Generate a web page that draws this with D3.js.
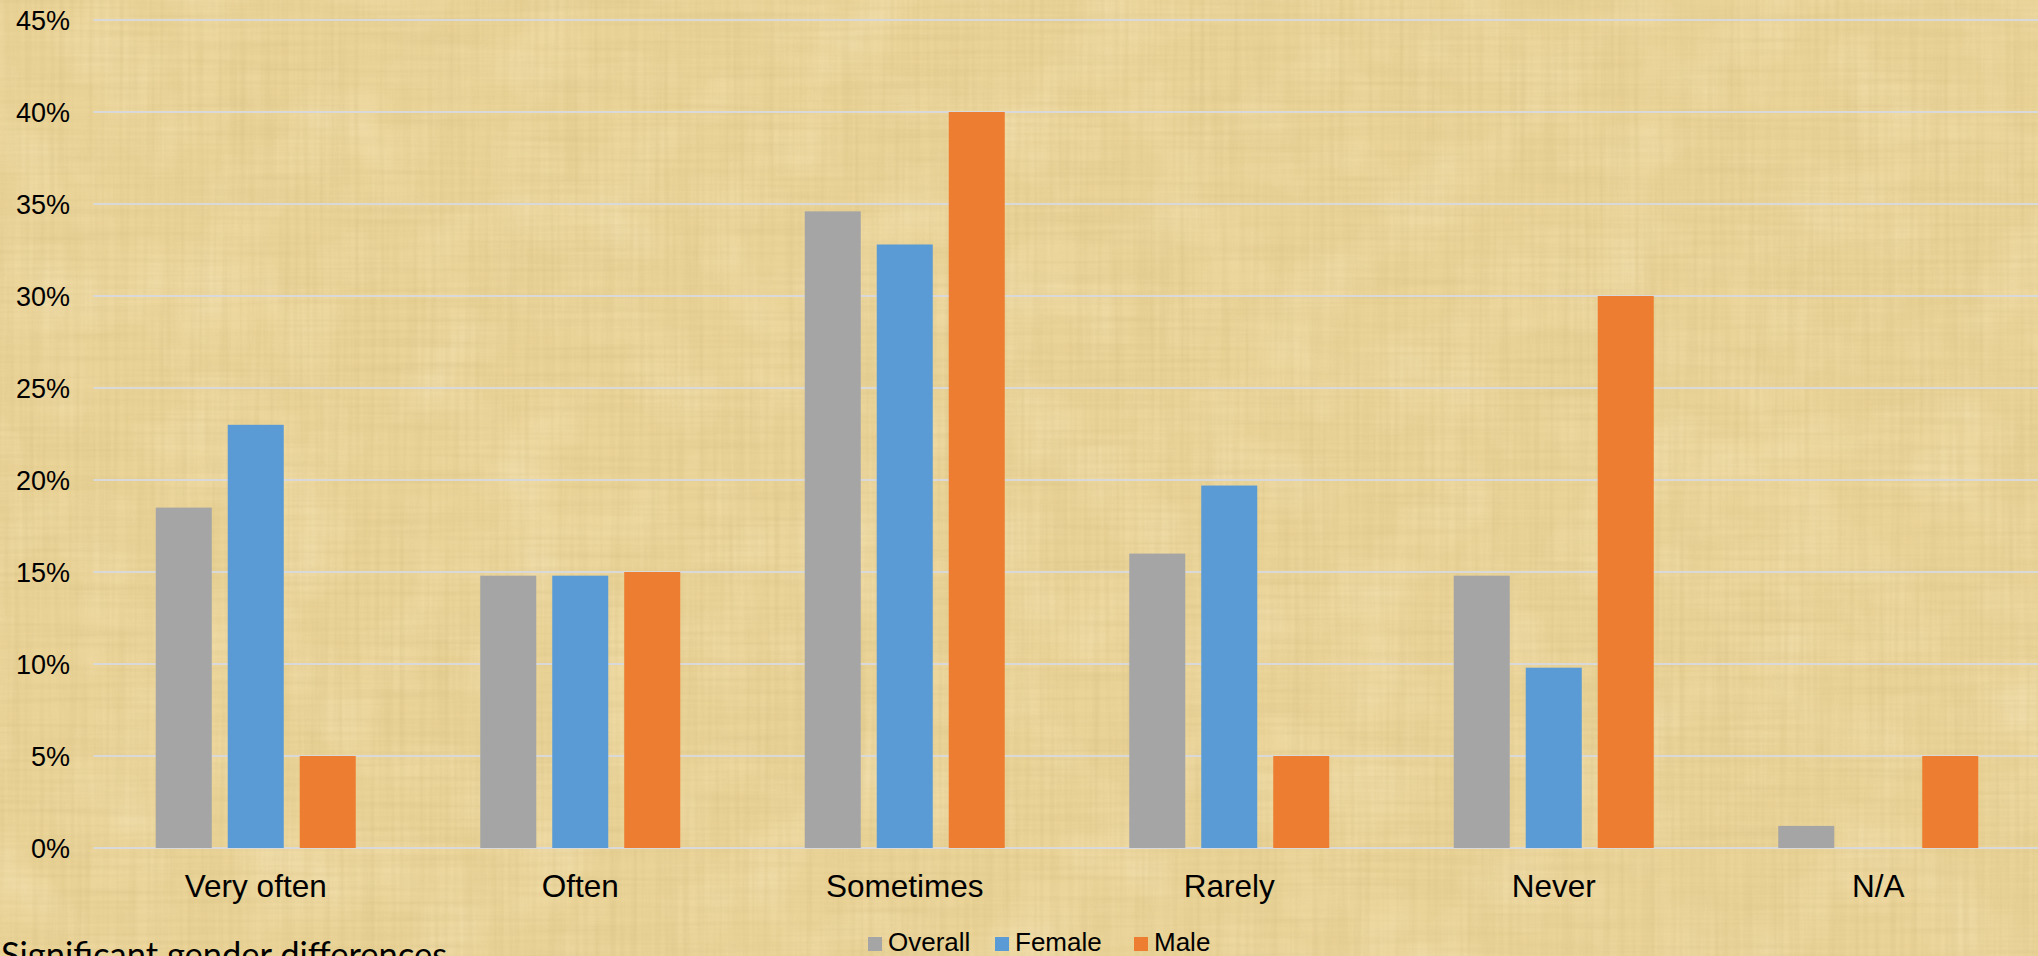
<!DOCTYPE html>
<html>
<head>
<meta charset="utf-8">
<script src="https://cdn.jsdelivr.net/npm/d3@7"></script>
<style>
  html, body { margin: 0; padding: 0; overflow: hidden; }
  svg { display: block; }
</style>
</head>
<body>
<div id="chart"></div>
<script>
// chart values (fractions)
var categories = ["Very often", "Often", "Sometimes", "Rarely", "Never", "N/A"];
var seriesNames = ["Overall", "Female", "Male"];
var overall = [0.185, 0.148, 0.346, 0.160, 0.148, 0.012];
var female  = [0.230, 0.148, 0.328, 0.197, 0.098, 0.000];
var male    = [0.050, 0.150, 0.400, 0.050, 0.300, 0.050];
var yTicks  = [0, 0.05, 0.10, 0.15, 0.20, 0.25, 0.30, 0.35, 0.40, 0.45];
var footnote = "Significant gender differences";

var values = { "Overall": overall, "Female": female, "Male": male };

var width = 2038
  , height = 956
  , plot = { left: 93.5, right: 2040.5, top: 20, bottom: 848 }
  , fillColors = ["#a5a5a5", "#5b9bd5", "#ed7d31"]
  , font = "'Liberation Sans', Arial, sans-serif"
  ;

var x0Scale = d3.scaleBand()
  .domain(categories)
  .range([plot.left, plot.right])
  .padding(0);

var x1Scale = d3.scaleBand()
  .domain(seriesNames)
  .range([62.25, 262.25])
  .paddingInner(0.222)
  .paddingOuter(0);

var yScale = d3.scaleLinear()
  .domain([0, 0.45])
  .range([plot.bottom, plot.top]);

var color = d3.scaleOrdinal().domain(seriesNames).range(fillColors);

var root = d3.select("#chart").append("svg")
  .attr("width", width)
  .attr("height", height);

// papyrus-ish background
var defs = root.append("defs");
var f = defs.append("filter").attr("id", "fibersH")
  .attr("x", 0).attr("y", 0).attr("width", "100%").attr("height", "100%");
f.append("feTurbulence").attr("type", "fractalNoise")
  .attr("baseFrequency", "0.006 0.22").attr("numOctaves", 2).attr("seed", 4);
f.append("feColorMatrix").attr("type", "matrix")
  .attr("values", "0 0 0 0 0.62  0 0 0 0 0.48  0 0 0 0 0.2  0.9 0 0 0 -0.34");

var g2 = defs.append("filter").attr("id", "fibersV")
  .attr("x", 0).attr("y", 0).attr("width", "100%").attr("height", "100%");
g2.append("feTurbulence").attr("type", "fractalNoise")
  .attr("baseFrequency", "0.2 0.005").attr("numOctaves", 2).attr("seed", 9);
g2.append("feColorMatrix").attr("type", "matrix")
  .attr("values", "0 0 0 0 0.6  0 0 0 0 0.46  0 0 0 0 0.18  0.9 0 0 0 -0.34");

var g3 = defs.append("filter").attr("id", "blotch")
  .attr("x", 0).attr("y", 0).attr("width", "100%").attr("height", "100%");
g3.append("feTurbulence").attr("type", "fractalNoise")
  .attr("baseFrequency", "0.012 0.012").attr("numOctaves", 3).attr("seed", 2);
g3.append("feColorMatrix").attr("type", "matrix")
  .attr("values", "0 0 0 0 0.98  0 0 0 0 0.9  0 0 0 0 0.68  0 1.1 0 0 -0.45");

root.append("rect").attr("width", width).attr("height", height).attr("fill", "#ebd498");
root.append("rect").attr("width", width).attr("height", height).attr("filter", "url(#blotch)").attr("opacity", 0.5);
root.append("rect").attr("width", width).attr("height", height).attr("filter", "url(#fibersH)").attr("opacity", 0.5);
root.append("rect").attr("width", width).attr("height", height).attr("filter", "url(#fibersV)").attr("opacity", 0.5);

// gridlines
root.append("g").attr("class", "grid")
  .selectAll("line").data(yTicks).enter().append("line")
  .attr("x1", plot.left)
  .attr("x2", width)
  .attr("y1", function(d) { return yScale(d); })
  .attr("y2", function(d) { return yScale(d); })
  .attr("stroke", "#d9d9d9")
  .attr("stroke-width", 2);

// y axis labels
var yAxis = d3.axisLeft(yScale).tickValues(yTicks).tickFormat(d3.format(".0%")).tickSize(0).tickPadding(0);
var yg = root.append("g")
  .attr("transform", "translate(70,0)")
  .call(yAxis);
yg.select(".domain").remove();
yg.selectAll("text")
  .attr("font-family", font)
  .attr("font-size", 27)
  .attr("fill", "#000")
  .attr("dy", "0.35em");

// bars
var groups = root.selectAll(".group").data(categories).enter()
  .append("g")
  .attr("class", "group")
  .attr("transform", function(d) { return "translate(" + x0Scale(d) + ",0)"; });

groups.selectAll("rect")
  .data(function(d, i) { return seriesNames.map(function(s) { return { key: s, value: values[s][i] }; }); })
  .enter().append("rect")
  .attr("x", function(d) { return x1Scale(d.key); })
  .attr("y", function(d) { return yScale(d.value); })
  .attr("width", x1Scale.bandwidth())
  .attr("height", function(d) { return yScale(0) - yScale(d.value); })
  .attr("fill", function(d) { return color(d.key); });

// x axis labels
var xAxis = d3.axisBottom(x0Scale).tickSize(0).tickPadding(0);
var xg = root.append("g")
  .attr("transform", "translate(0,897)")
  .call(xAxis);
xg.select(".domain").remove();
xg.selectAll("text")
  .attr("font-family", font)
  .attr("font-size", 31.5)
  .attr("fill", "#000")
  .attr("dy", 0)
  .attr("y", 0);

// legend
var legendX = [868, 995, 1134];
var legend = root.append("g").attr("class", "legend")
  .selectAll("g").data(seriesNames).enter().append("g")
  .attr("transform", function(d, i) { return "translate(" + legendX[i] + ",937)"; });
legend.append("rect")
  .attr("width", 14).attr("height", 14)
  .attr("fill", function(d) { return color(d); });
legend.append("text")
  .attr("x", 20).attr("y", 14)
  .attr("font-family", font)
  .attr("font-size", 26)
  .attr("fill", "#000")
  .text(function(d) { return d; });

// footnote, cut off by the bottom edge as in the original slide
root.append("text")
  .attr("x", 1).attr("y", 967)
  .attr("font-family", "Lato, 'Open Sans', sans-serif")
  .attr("font-size", 34.5)
  .attr("fill", "#000")
  .text(footnote);
</script>
</body>
</html>
